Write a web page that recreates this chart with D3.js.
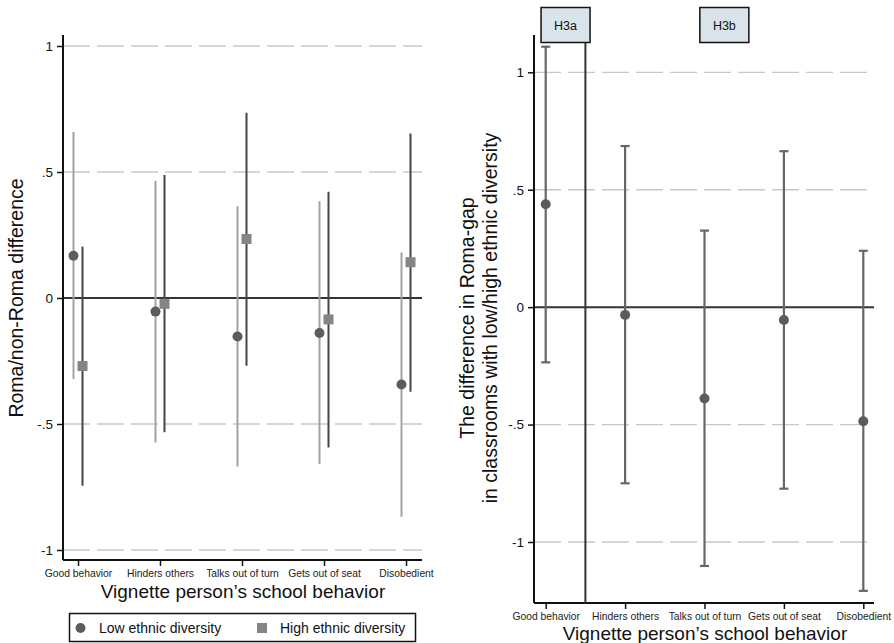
<!DOCTYPE html>
<html>
<head>
<meta charset="utf-8">
<script src="https://cdn.jsdelivr.net/npm/d3@7"></script>
<style>
  body { margin: 0; background: #fff; }
  svg { font-family: "Liberation Sans", Arial, sans-serif; }
</style>
</head>
<body>
<svg id="chart" width="894" height="643"></svg>
<script>
const categories = ["Good behavior", "Hinders others", "Talks out of turn", "Gets out of seat", "Disobedient"];

// left panel: Roma/non-Roma difference by diversity group
const lowEst = [0.168, -0.054, -0.153, -0.139, -0.343];
const lowLo = [-0.321, -0.573, -0.669, -0.659, -0.868];
const lowHi = [0.659, 0.464, 0.364, 0.384, 0.181];
const highEst = [-0.27, -0.023, 0.234, -0.085, 0.142];
const highLo = [-0.745, -0.533, -0.269, -0.593, -0.372];
const highHi = [0.204, 0.488, 0.735, 0.422, 0.653];

// right panel: difference in Roma-gap
const gapEst = [0.438, -0.033, -0.389, -0.055, -0.486];
const gapLo = [-0.235, -0.750, -1.102, -0.773, -1.208];
const gapHi = [1.109, 0.686, 0.326, 0.664, 0.240];

const yTicks = [1, 0.5, 0, -0.5, -1];
const tickLabels = ["1", ".5", "0", "-.5", "-1"];
const hypotheses = [{ label: "H3a", pos: 0.25 }, { label: "H3b", pos: 2.25 }];
const dividerPos = 0.5;

const svg = d3.select("#chart");
const gridColor = "#c8c8c8";
const font = "Liberation Sans, Arial, sans-serif";

function drawFrame(g, x, y, left, right, top, bottom) {
  // gridlines
  g.selectAll(".grid")
    .data(yTicks.filter((d) => d !== 0))
    .join("line")
    .attr("x1", left).attr("x2", right)
    .attr("y1", (d) => y(d)).attr("y2", (d) => y(d))
    .attr("stroke", gridColor)
    .attr("stroke-width", 1.3)
    .attr("stroke-dasharray", "27,7");

  // zero line
  g.append("line")
    .attr("x1", left).attr("x2", right)
    .attr("y1", y(0)).attr("y2", y(0))
    .attr("stroke", "#333").attr("stroke-width", 2);

  // y axis
  const yAxis = g.append("g")
    .attr("transform", `translate(${left},0)`)
    .call(d3.axisLeft(y).tickValues(yTicks).tickSize(6).tickPadding(4)
      .tickFormat((d, i) => tickLabels[i]));
  yAxis.select(".domain").attr("d", `M0,${top}V${bottom}`).attr("stroke", "#111").attr("stroke-width", 2);
  yAxis.selectAll(".tick line").attr("stroke", "#111").attr("stroke-width", 1.5);
  yAxis.selectAll(".tick text").attr("font-size", 13.5).attr("fill", "#111")
    .attr("font-family", font);

  // x axis
  const xAxis = g.append("g")
    .attr("transform", `translate(0,${bottom})`)
    .call(d3.axisBottom(x).tickValues(d3.range(categories.length)).tickSize(6)
      .tickFormat((d) => categories[d]));
  xAxis.select(".domain").attr("d", `M${left},0H${right}`).attr("stroke", "#111").attr("stroke-width", 2);
  xAxis.selectAll(".tick line").attr("stroke", "#111").attr("stroke-width", 1.5);
  xAxis.selectAll(".tick text").attr("font-size", 10.3).attr("fill", "#222")
    .attr("font-family", font).attr("dy", "0.8em");
}

//=== Left panel ===
const L = { left: 63, right: 422, top: 35, bottom: 560 };
const xL = d3.scaleLinear().domain([0, 4]).range([78, 406]);
const yL = d3.scaleLinear().domain([-1, 1]).range([550, 46]);
const gL = svg.append("g");
drawFrame(gL, xL, yL, L.left, L.right, L.top, L.bottom);

const off = 4.5;
gL.selectAll(".ciLow").data(categories).join("line")
  .attr("x1", (d, i) => xL(i) - off).attr("x2", (d, i) => xL(i) - off)
  .attr("y1", (d, i) => yL(lowLo[i])).attr("y2", (d, i) => yL(lowHi[i]))
  .attr("stroke", "#a3a3a3").attr("stroke-width", 2);
gL.selectAll(".ciHigh").data(categories).join("line")
  .attr("x1", (d, i) => xL(i) + off).attr("x2", (d, i) => xL(i) + off)
  .attr("y1", (d, i) => yL(highLo[i])).attr("y2", (d, i) => yL(highHi[i]))
  .attr("stroke", "#454545").attr("stroke-width", 2);
gL.selectAll(".ptLow").data(categories).join("circle")
  .attr("cx", (d, i) => xL(i) - off).attr("cy", (d, i) => yL(lowEst[i]))
  .attr("r", 5).attr("fill", "#5c5c5c");
gL.selectAll(".ptHigh").data(categories).join("rect")
  .attr("x", (d, i) => xL(i) + off - 5).attr("y", (d, i) => yL(highEst[i]) - 5)
  .attr("width", 10).attr("height", 10).attr("fill", "#858585");

gL.append("text")
  .attr("transform", `translate(23,298) rotate(-90)`)
  .attr("text-anchor", "middle").attr("font-size", 19.5).attr("fill", "#111")
  .text("Roma/non-Roma difference");
gL.append("text")
  .attr("x", 243).attr("y", 598)
  .attr("text-anchor", "middle").attr("font-size", 19).attr("fill", "#111")
  .text("Vignette person\u2019s school behavior");

// legend
const leg = gL.append("g");
leg.append("rect").attr("x", 69.5).attr("y", 613.5).attr("width", 346).attr("height", 28)
  .attr("fill", "#fff").attr("stroke", "#111").attr("stroke-width", 1.5);
leg.append("circle").attr("cx", 80.5).attr("cy", 628).attr("r", 5).attr("fill", "#5c5c5c");
leg.append("text").attr("x", 99).attr("y", 633).attr("font-size", 14).attr("fill", "#111")
  .text("Low ethnic diversity");
leg.append("rect").attr("x", 257).attr("y", 623).attr("width", 10).attr("height", 10).attr("fill", "#858585");
leg.append("text").attr("x", 280).attr("y", 633).attr("font-size", 14).attr("fill", "#111")
  .text("High ethnic diversity");

//=== Right panel ===
const R = { left: 534, right: 874, top: 35, bottom: 603 };
const xR = d3.scaleLinear().domain([0, 4]).range([545.7, 863.3]);
const yR = d3.scaleLinear().domain([-1, 1]).range([542, 72.3]);
const gR = svg.append("g");
drawFrame(gR, xR, yR, R.left, R.right, R.top, R.bottom);

// divider between hypotheses
gR.append("line")
  .attr("x1", xR(dividerPos)).attr("x2", xR(dividerPos))
  .attr("y1", R.top).attr("y2", R.bottom)
  .attr("stroke", "#333").attr("stroke-width", 2);

const cap = 4.5;
gR.selectAll(".ci").data(categories).join("line")
  .attr("x1", (d, i) => xR(i)).attr("x2", (d, i) => xR(i))
  .attr("y1", (d, i) => yR(gapLo[i])).attr("y2", (d, i) => yR(gapHi[i]))
  .attr("stroke", "#666").attr("stroke-width", 2.2);
gR.selectAll(".capHi").data(categories).join("line")
  .attr("x1", (d, i) => xR(i) - cap).attr("x2", (d, i) => xR(i) + cap)
  .attr("y1", (d, i) => yR(gapHi[i])).attr("y2", (d, i) => yR(gapHi[i]))
  .attr("stroke", "#666").attr("stroke-width", 2.2);
gR.selectAll(".capLo").data(categories).join("line")
  .attr("x1", (d, i) => xR(i) - cap).attr("x2", (d, i) => xR(i) + cap)
  .attr("y1", (d, i) => yR(gapLo[i])).attr("y2", (d, i) => yR(gapLo[i]))
  .attr("stroke", "#666").attr("stroke-width", 2.2);
gR.selectAll(".pt").data(categories).join("circle")
  .attr("cx", (d, i) => xR(i)).attr("cy", (d, i) => yR(gapEst[i]))
  .attr("r", 5).attr("fill", "#5c5c5c");

// hypothesis boxes
const hb = gR.selectAll(".hyp").data(hypotheses).join("g")
  .attr("transform", (d) => `translate(${xR(d.pos)},25)`);
hb.append("rect").attr("x", -24.5).attr("y", -17.5).attr("width", 49).attr("height", 35)
  .attr("fill", "#d9e4ea").attr("stroke", "#111").attr("stroke-width", 1.5);
hb.append("text").attr("text-anchor", "middle").attr("y", 4.5).attr("font-size", 12.5).attr("fill", "#111")
  .text((d) => d.label);

gR.append("text")
  .attr("transform", `translate(474,318) rotate(-90)`)
  .attr("text-anchor", "middle").attr("font-size", 19.5).attr("fill", "#111")
  .text("The difference in Roma-gap");
gR.append("text")
  .attr("transform", `translate(497,318) rotate(-90)`)
  .attr("text-anchor", "middle").attr("font-size", 19.5).attr("fill", "#111")
  .text("in classrooms with low/high ethnic diversity");
gR.append("text")
  .attr("x", 705).attr("y", 640)
  .attr("text-anchor", "middle").attr("font-size", 19).attr("fill", "#111")
  .text("Vignette person\u2019s school behavior");
</script>
</body>
</html>
